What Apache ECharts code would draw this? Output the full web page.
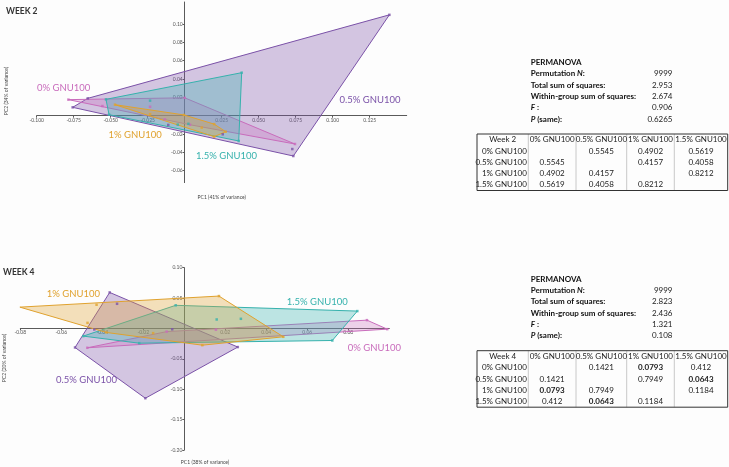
<!DOCTYPE html>
<html><head><meta charset="utf-8">
<script src="https://cdn.jsdelivr.net/npm/echarts@6/dist/echarts.min.js"></script>
<style>html,body{margin:0;padding:0;background:#fff}#c{width:729px;height:467px}</style>
</head><body><div id="c"></div><script>
// ---------- DATA ----------
const groups = ['0% GNU100', '0.5% GNU100', '1% GNU100', '1.5% GNU100'];
// Week 2 PCA scores [PC1, PC2]
const w2_g0  = [[-0.0786,0.0175],[0.0,0.0195],[0.0745,-0.0309],[-0.0556,0.0105],[-0.0234,0.0097],[-0.0134,-0.004],[0.0036,-0.0099]];
const w2_g05 = [[0.1383,0.110],[0.0734,-0.044],[-0.0757,0.0091],[-0.0655,0.0189],[0.0727,-0.0364],[0.0257,-0.0203],[-0.0111,-0.0101]];
const w2_g1  = [[-0.0471,0.012],[-0.0234,0.0017],[-0.0005,0.0008],[0.0115,-0.013],[0.0199,-0.0092],[0.0277,-0.0175],[0.0199,-0.0229]];
const w2_g15 = [[-0.0532,0.0178],[0.0385,0.0469],[0.0365,-0.0276],[-0.0511,0.0011],[-0.0234,0.0164],[-0.0047,-0.0098],[0.0025,-0.0089]];
// Week 4 PCA scores [PC1, PC2]
const w4_g0  = [[0.099,-0.0011],[0.0891,0.0137],[-0.0473,-0.0318],[-0.0086,-0.0052],[0.0154,-0.002]];
const w4_g05 = [[-0.0364,0.0593],[0.0261,-0.0306],[-0.019,-0.1148],[-0.0533,-0.0313],[-0.0328,0.0406],[-0.0439,-0.0016],[-0.0059,-0.0013]];
const w4_g1  = [[-0.0802,0.0351],[0.0169,0.0533],[0.0483,-0.0137],[0.0088,-0.0275],[-0.0472,0.0092],[-0.0428,0.039],[-0.038,-0.0066],[-0.0152,-0.0077]];
const w4_g15 = [[-0.0042,0.0381],[0.0844,0.0286],[0.0722,-0.0198],[-0.022,-0.0242],[-0.0493,-0.0126],[0.0158,0.0148],[0.0276,0.0159]];
// axis tick labels
const w2_xTicks = [-0.100,-0.075,-0.050,-0.025,0.025,0.050,0.075,0.100,0.125];
const w2_yTicks = [-0.06,-0.04,-0.02,0.02,0.04,0.06,0.08,0.10];
const w4_xTicks = [-0.08,-0.06,-0.04,-0.02,0.02,0.04,0.06,0.08];
const w4_yTicks = [-0.20,-0.15,-0.10,-0.05,0.05,0.10];
// PERMANOVA summaries
const w2_stats = [['Permutation N:', '9999'],['Total sum of squares:', '2.953'],['Within-group sum of squares:', '2.674'],['F :', '0.906'],['P (same):', '0.6265']];
const w4_stats = [['Permutation N:', '9999'],['Total sum of squares:', '2.823'],['Within-group sum of squares:', '2.436'],['F :', '1.321'],['P (same):', '0.108']];
// pairwise p-values (rows x cols in group order)
const w2_pairs = [['', '0.5545', '0.4902', '0.5619'],['0.5545', '', '0.4157', '0.4058'],['0.4902', '0.4157', '', '0.8212'],['0.5619', '0.4058', '0.8212', '']];
const w4_pairs = [['', '0.1421', '0.0793', '0.412'],['0.1421', '', '0.7949', '0.0643'],['0.0793', '0.7949', '', '0.1184'],['0.412', '0.0643', '0.1184', '']];

// ---------- STYLE ----------
const colors = ['#c96cbc', '#7b52a8', '#e0a22e', '#36b2ad'];
const fills  = ['rgba(201,108,188,0.30)', 'rgba(123,82,168,0.32)', 'rgba(224,162,46,0.32)', 'rgba(54,178,173,0.32)'];
const FONT = 'Lato, "Open Sans", sans-serif';

function hull(pts) {
  const p = pts.slice().sort((a, b) => a[0] - b[0] || a[1] - b[1]);
  const cross = (o, a, b) => (a[0]-o[0])*(b[1]-o[1]) - (a[1]-o[1])*(b[0]-o[0]);
  const lo = [], up = [];
  for (const q of p) { while (lo.length >= 2 && cross(lo[lo.length-2], lo[lo.length-1], q) <= 0) lo.pop(); lo.push(q); }
  for (let i = p.length-1; i >= 0; i--) { const q = p[i]; while (up.length >= 2 && cross(up[up.length-2], up[up.length-1], q) <= 0) up.pop(); up.push(q); }
  up.pop(); lo.pop();
  return lo.concat(up);
}

const series = [];
function addWeek(idx, data) {
  const order = [1, 0, 3, 2];
  order.forEach(g => {
    const h = hull(data[g]);
    series.push({
      type: 'custom', xAxisIndex: idx, yAxisIndex: idx, data: h, silent: true, z: 2,
      renderItem: (params, api) => {
        if (params.dataIndex !== 0) return null;
        const pts = h.map(p => api.coord(p));
        return { type: 'polygon', shape: { points: pts }, style: { fill: fills[g], stroke: colors[g], lineWidth: 1 } };
      }
    });
  });
  order.forEach(g => {
    series.push({ type: 'scatter', xAxisIndex: idx, yAxisIndex: idx, data: data[g], symbol: 'rect', symbolSize: 2.5, z: 3, silent: true,
      itemStyle: { color: colors[g] } });
  });
}
addWeek(0, [w2_g0, w2_g05, w2_g1, w2_g15]);
addWeek(1, [w4_g0, w4_g05, w4_g1, w4_g15]);

// axes cross at the origin: shift each axis from the grid edge to the zero line
function axis(min, max, ticks, dec, offset) {
  return {
    type: 'value', min, max, splitLine: { show: false }, offset,
    axisLine: { onZero: false, lineStyle: { color: '#5a5a5a', width: 1 } },
    axisTick: { show: true, length: 2, customValues: ticks, lineStyle: { color: '#5a5a5a' } },
    axisLabel: { customValues: ticks, fontSize: 5, color: '#555', margin: 2, fontFamily: FONT, formatter: v => v.toFixed(dec) }
  };
}

// ---------- TEXT ----------
const graphics = [];
function txt(x, y, text, opts) {
  graphics.push({ type: 'text', x, y, silent: true, rotation: opts.rotation || 0,
    style: Object.assign({ text, fontFamily: FONT, fontSize: 9.5, fill: '#333', verticalAlign: 'middle', align: 'left' }, opts.style || {}) });
}
txt(6, 11, 'WEEK 2', { style: { fontSize: 8.5, fontWeight: 'bold', fill: '#333' } });
txt(3, 272.5, 'WEEK 4', { style: { fontSize: 8.5, fontWeight: 'bold', fill: '#333' } });
txt(221.7, 197.7, 'PC1 (41% of variance)', { style: { fontSize: 5, align: 'center', fill: '#444' } });
txt(6.5, 91, 'PC2 (34% of variance)', { rotation: Math.PI / 2, style: { fontSize: 5, align: 'center', fill: '#444' } });
txt(205, 462.3, 'PC1 (38% of variance)', { style: { fontSize: 5, align: 'center', fill: '#444' } });
txt(4.7, 358, 'PC2 (20% of variance)', { rotation: Math.PI / 2, style: { fontSize: 5, align: 'center', fill: '#444' } });
// group labels
txt(37, 87.5, groups[0], { style: { fill: colors[0] } });
txt(339.5, 100, groups[1], { style: { fill: colors[1] } });
txt(108.5, 135, groups[2], { style: { fill: colors[2] } });
txt(196, 155.7, groups[3], { style: { fill: colors[3] } });
txt(46.7, 294.3, groups[2], { style: { fill: colors[2] } });
txt(286.7, 302, groups[3], { style: { fill: colors[3] } });
txt(347.7, 348.3, groups[0], { style: { fill: colors[0] } });
txt(56, 379.7, groups[1], { style: { fill: colors[1] } });

const FS = 8;
function statsBlock(y0, stats) {
  txt(530.7, y0, 'PERMANOVA', { style: { fontSize: FS, fontWeight: 'bold', fill: '#111' } });
  stats.forEach((s, i) => {
    const y = y0 + 11.3 * (i + 1);
    const lab = s[0];
    let rich;
    if (lab.startsWith('Permutation')) rich = '{b|Permutation }{i|N}{b|:}';
    else if (lab.startsWith('F')) rich = '{i|F}{b| :}';
    else if (lab.startsWith('P')) rich = '{i|P}{b| (same):}';
    else rich = '{b|' + lab + '}';
    graphics.push({ type: 'text', x: 530.7, y, silent: true, style: { text: rich, verticalAlign: 'middle',
      rich: { b: { fontFamily: FONT, fontSize: FS, fontWeight: 'bold', fill: '#111' }, i: { fontFamily: FONT, fontSize: FS, fontWeight: 'bold', fontStyle: 'italic', fill: '#111' } } } });
    txt(672.5, y, s[1], { style: { fontSize: FS, align: 'right', fill: '#222' } });
  });
}
statsBlock(62.5, w2_stats);
statsBlock(279.2, w4_stats);

function table(top, title, pairs, boldSet) {
  const cols = [477, 528.3, 576, 626.7, 674.3, 727.7];
  const rh = 11.3, nrows = 5;
  const bottom = top + rh * nrows;
  for (let i = 1; i < 5; i++) graphics.push({ type: 'line', silent: true, shape: { x1: cols[i], y1: top, x2: cols[i], y2: bottom }, style: { stroke: '#c8c8c8', lineWidth: 1 } });
  graphics.push({ type: 'rect', silent: true, shape: { x: cols[0], y: top, width: cols[5] - cols[0], height: bottom - top }, style: { fill: 'none', stroke: '#333', lineWidth: 1 } });
  const cy = r => top + rh * r + rh / 2;
  txt((cols[0] + cols[1]) / 2, cy(0), title, { style: { fontSize: FS, align: 'center', fill: '#222' } });
  groups.forEach((g, j) => txt((cols[j + 1] + cols[j + 2]) / 2, cy(0), g, { style: { fontSize: FS, align: 'center', fill: '#222' } }));
  groups.forEach((g, i) => {
    txt(cols[1] - 1.5, cy(i + 1), g, { style: { fontSize: FS, align: 'right', fill: '#222' } });
    pairs[i].forEach((v, j) => {
      if (!v) return;
      const bold = boldSet.includes(v);
      txt((cols[j + 1] + cols[j + 2]) / 2, cy(i + 1), v, { style: { fontSize: FS, align: 'center', fill: '#222', fontWeight: bold ? 'bold' : 'normal' } });
    });
  });
}
table(134, 'Week 2', w2_pairs, []);
table(350.7, 'Week 4', w4_pairs, ['0.0793', '0.0643']);

const chart = echarts.init(document.getElementById('c'), null, { renderer: 'canvas' });
chart.setOption({
  animation: false,
  backgroundColor: '#fdfdfd',
  grid: [
    { left: 36.7, width: 370, top: 2.0, height: 180.6, outerBoundsMode: 'none', containLabel: false },
    { left: 20.3, width: 369, top: 267.7, height: 182.3, outerBoundsMode: 'none', containLabel: false }
  ],
  xAxis: [Object.assign(axis(-0.1, 0.15, w2_xTicks, 3, -66.9), { gridIndex: 0, position: 'bottom' }),
          Object.assign(axis(-0.08, 0.1, w4_xTicks, 2, -121.7), { gridIndex: 1, position: 'bottom' })],
  yAxis: [Object.assign(axis(-0.073, 0.124, w2_yTicks, 2, -148), { gridIndex: 0, position: 'left' }),
          Object.assign(axis(-0.2, 0.1, w4_yTicks, 2, -164), { gridIndex: 1, position: 'left' })],
  series,
  graphic: graphics
});
</script></body></html>
